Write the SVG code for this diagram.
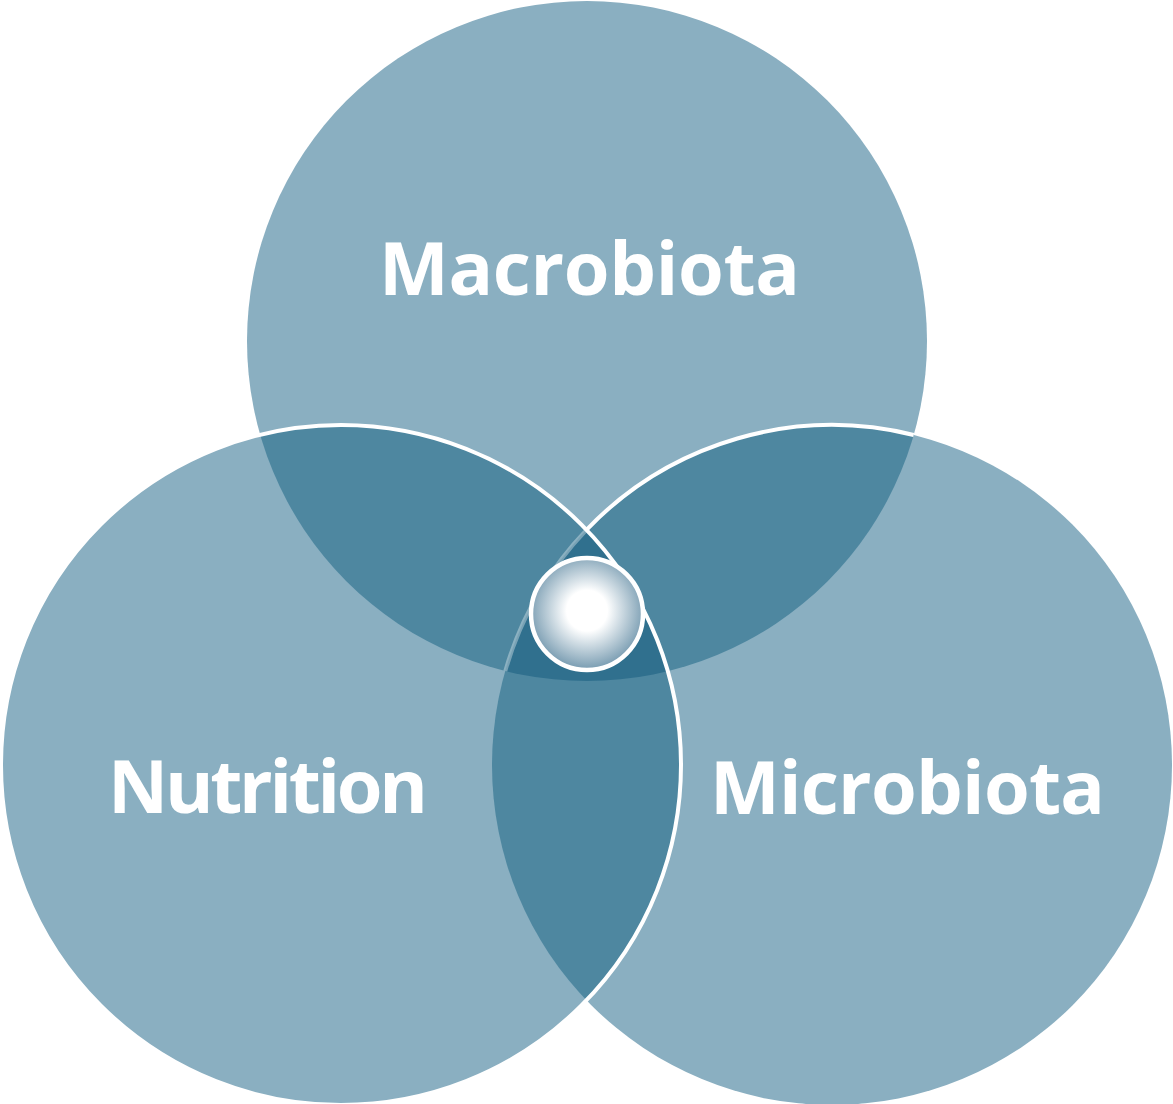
<svg xmlns="http://www.w3.org/2000/svg" width="1173" height="1104" viewBox="0 0 1173 1104">
  <style>
    .single { fill: #8aafc1; }
    .double { fill: #4e87a0; }
    .triple { fill: #30708e; }
    .label { font-family: "Open Sans", "Liberation Sans", sans-serif; font-weight: 700; font-size: 74px; fill: #ffffff; }
    .edge { fill: none; stroke: #ffffff; stroke-width: 4; }
  </style>
  <defs>
    <clipPath id="clipTop"><circle cx="587" cy="341" r="340"/></clipPath>
    <clipPath id="clipLeft"><circle cx="341" cy="765" r="340"/></clipPath>
    <clipPath id="clipRight"><circle cx="832" cy="765" r="340"/></clipPath>
    <radialGradient id="core" cx="50%" cy="47%" r="52%">
      <stop offset="0" stop-color="#ffffff"/>
      <stop offset="0.35" stop-color="#ffffff"/>
      <stop offset="1" stop-color="#7a9db2"/>
    </radialGradient>
  </defs>

  <rect x="0" y="0" width="1173" height="1104" fill="#ffffff"/>

  <g id="node-macrobiota">
    <circle class="single" cx="587" cy="341" r="340"/>
  </g>
  <g id="node-nutrition">
    <circle class="single" cx="341" cy="765" r="340"/>
  </g>
  <g id="node-microbiota">
    <circle class="single" cx="832" cy="765" r="340"/>
  </g>

  <g id="overlaps">
    <g clip-path="url(#clipTop)"><circle class="double" cx="341" cy="765" r="340"/></g>
    <g clip-path="url(#clipTop)"><circle class="double" cx="832" cy="765" r="340"/></g>
    <g clip-path="url(#clipLeft)"><circle class="double" cx="832" cy="765" r="340"/></g>
    <g clip-path="url(#clipTop)"><g clip-path="url(#clipLeft)"><circle class="triple" cx="832" cy="765" r="340"/></g></g>
  </g>

  <g id="connectors">
    <path class="edge" d="M913.7,435 A340,340 0 0 0 586.5,529.8"/>
    <path class="edge" stroke-opacity="0.35" d="M586.5,529.8 A340,340 0 0 0 505.3,671"/>
    <circle class="edge" cx="341" cy="765" r="340"/>
  </g>

  <g id="node-core">
    <circle cx="587" cy="614" r="56" fill="url(#core)" stroke="#ffffff" stroke-width="4.5"/>
  </g>

  <g id="labels">
    <text class="label" x="379" y="295" textLength="421" lengthAdjust="spacing">Macrobiota</text>
    <text class="label" x="108" y="813" textLength="320" lengthAdjust="spacing">Nutrition</text>
    <text class="label" x="710" y="814" textLength="395" lengthAdjust="spacing">Microbiota</text>
  </g>
</svg>
